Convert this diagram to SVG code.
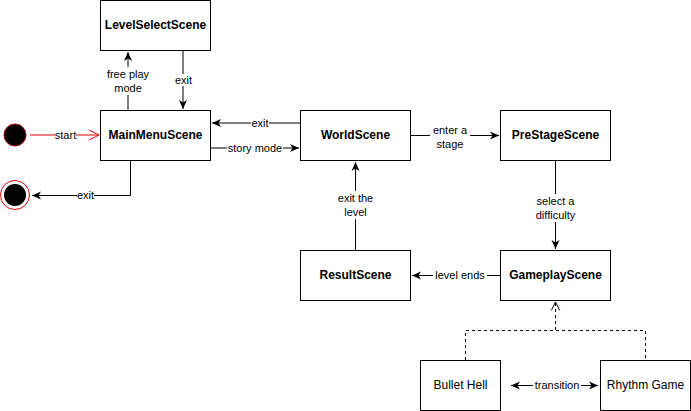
<svg xmlns="http://www.w3.org/2000/svg" width="691" height="411" viewBox="0 0 691 411">
<style>
.box{fill:#fff;stroke:#000;stroke-width:1}
.bt{font-family:"Liberation Sans",Arial,sans-serif;font-size:12px;font-weight:bold;fill:#000;text-anchor:middle;dominant-baseline:central}
.nt{font-family:"Liberation Sans",Arial,sans-serif;font-size:12px;fill:#000;text-anchor:middle;dominant-baseline:central}
.e{fill:none;stroke:#000;stroke-width:1}
.lb{fill:#fff}
.lt{font-family:"Liberation Sans",Arial,sans-serif;font-size:11px;fill:#000;text-anchor:middle;dominant-baseline:central}
</style>
<defs>
<marker id="ar" viewBox="0 0 10 10" refX="9" refY="5" markerWidth="10" markerHeight="10" markerUnits="userSpaceOnUse" orient="auto-start-reverse">
<path d="M0,1 L9,5 L0,9 L2.5,5 Z" fill="#000"/>
</marker>
<marker id="ro" viewBox="0 0 12 12" refX="11" refY="6" markerWidth="12" markerHeight="12" markerUnits="userSpaceOnUse" orient="auto">
<path d="M1,1 L11,6 L1,11" fill="none" stroke="#e00000" stroke-width="1"/>
</marker>
<marker id="bo" viewBox="0 0 12 12" refX="11" refY="6" markerWidth="10" markerHeight="10" markerUnits="userSpaceOnUse" orient="auto">
<path d="M1,1 L11,6 L1,11" fill="none" stroke="#000" stroke-width="1.2"/>
</marker>
</defs>
<g id="start"><circle cx="15" cy="135" r="11" fill="#000" stroke="#b00000" stroke-width="1"/></g>
<g id="end"><circle cx="15" cy="195" r="14.5" fill="#fff" stroke="#e00000" stroke-width="1"/><circle cx="15" cy="195" r="11" fill="#000"/></g>
<g id="LevelSelectScene"><rect class="box" x="100.5" y="0.5" width="110" height="50"/><text class="bt" x="155.5" y="25">LevelSelectScene</text></g>
<g id="MainMenuScene"><rect class="box" x="100.5" y="110.5" width="110" height="50"/><text class="bt" x="155.5" y="135">MainMenuScene</text></g>
<g id="WorldScene"><rect class="box" x="300.5" y="110.5" width="110" height="50"/><text class="bt" x="355.5" y="135">WorldScene</text></g>
<g id="PreStageScene"><rect class="box" x="500.5" y="110.5" width="110" height="50"/><text class="bt" x="555.5" y="135">PreStageScene</text></g>
<g id="ResultScene"><rect class="box" x="300.5" y="250.5" width="110" height="50"/><text class="bt" x="355.5" y="275">ResultScene</text></g>
<g id="GameplayScene"><rect class="box" x="500.5" y="250.5" width="110" height="50"/><text class="bt" x="555.5" y="275">GameplayScene</text></g>
<g id="BulletHell"><rect class="box" x="420.5" y="360.5" width="80" height="50"/><text class="nt" x="460.5" y="385">Bullet Hell</text></g>
<g id="RhythmGame"><rect class="box" x="600.5" y="360.5" width="90" height="50"/><text class="nt" x="645.5" y="385">Rhythm Game</text></g>
<g id="connectors">
<path d="M30,135 H99" fill="none" stroke="#e00000" stroke-width="1" marker-end="url(#ro)"/>
<rect class="lb" x="55" y="129" width="21" height="12"/><text class="lt" x="65.5" y="135">start</text>
<path class="e" d="M130.5,161 V195.5 H32" marker-end="url(#ar)"/>
<rect class="lb" x="77" y="189" width="17" height="12"/><text class="lt" x="85.5" y="195">exit</text>
<path class="e" d="M128,110 V52" marker-end="url(#ar)"/>
<rect class="lb" x="105" y="67" width="46" height="28"/><text class="lt" x="128" y="74">free play</text><text class="lt" x="128" y="88">mode</text>
<path class="e" d="M183,51 V109" marker-end="url(#ar)"/>
<rect class="lb" x="175" y="74" width="17" height="12"/><text class="lt" x="183.5" y="80">exit</text>
<path class="e" d="M300,123 H212" marker-end="url(#ar)"/>
<rect class="lb" x="251" y="117" width="18" height="12"/><text class="lt" x="260" y="123">exit</text>
<path class="e" d="M211,148 H299" marker-end="url(#ar)"/>
<rect class="lb" x="227" y="142" width="56" height="12"/><text class="lt" x="255" y="148">story mode</text>
<path class="e" d="M411,135.5 H499" marker-end="url(#ar)"/>
<rect class="lb" x="430" y="123" width="40" height="28"/><text class="lt" x="450" y="130">enter a</text><text class="lt" x="450" y="144">stage</text>
<path class="e" d="M555.5,161 V249" marker-end="url(#ar)"/>
<rect class="lb" x="532" y="194" width="47" height="28"/><text class="lt" x="555.5" y="201">select a</text><text class="lt" x="555.5" y="215">difficulty</text>
<path class="e" d="M500,275.5 H412" marker-end="url(#ar)"/>
<rect class="lb" x="433" y="269" width="54" height="12"/><text class="lt" x="460" y="275">level ends</text>
<path class="e" d="M355.5,250 V162" marker-end="url(#ar)"/>
<rect class="lb" x="334" y="191" width="43" height="28"/><text class="lt" x="355.5" y="198">exit the</text><text class="lt" x="355.5" y="212">level</text>
<path class="e" d="M465.5,360 V330.5 H645.5 V360" stroke-dasharray="3 3"/>
<path class="e" d="M555.5,330 V302" stroke-dasharray="3 3" marker-end="url(#bo)"/>
<path class="e" d="M511,385.5 H598" marker-start="url(#ar)" marker-end="url(#ar)"/>
<rect class="lb" x="533" y="379" width="48" height="12"/><text class="lt" x="557" y="385">transition</text>
</g>
</svg>
